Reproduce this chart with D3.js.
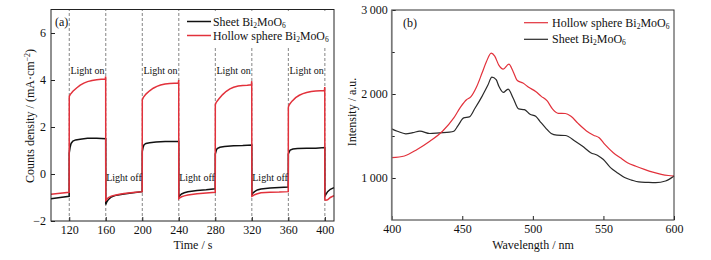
<!DOCTYPE html>
<html>
<head>
<meta charset="utf-8">
<script src="https://cdn.jsdelivr.net/npm/d3@7"></script>
<style>
  body { margin: 0; background: #fff; }
  text { font-family: "Liberation Serif", "Times New Roman", serif; fill: #111; }
</style>
</head>
<body>
<svg id="chart" width="711" height="260"></svg>
<script>
// ---- data: panel (a) photocurrent, [time s, current mA/cm2]
var sheet_curr = [[100,-1.05],[110,-1.0],[119.9,-0.95],[120,0.9],[121,1.15],[122,1.3],[124,1.4],[127,1.45],[132,1.48],[140,1.52],[150,1.52],[159.9,1.5],
  [160,-1.3],[161,-1.2],[163,-1.08],[166,-0.98],[170,-0.92],[180,-0.85],[190,-0.8],[199.9,-0.75],
  [200,0.95],[201,1.15],[202,1.25],[204,1.3],[208,1.33],[215,1.36],[225,1.38],[239.9,1.38],
  [240,-1.0],[241,-0.92],[243,-0.85],[246,-0.8],[250,-0.76],[260,-0.7],[270,-0.67],[279.9,-0.63],
  [280,0.85],[281,1.0],[282,1.08],[285,1.14],[290,1.17],[300,1.2],[310,1.21],[319.9,1.23],
  [320,-0.9],[321,-0.82],[323,-0.75],[326,-0.68],[330,-0.64],[340,-0.6],[350,-0.57],[359.9,-0.55],
  [360,0.85],[361,0.95],[362,1.02],[365,1.06],[370,1.08],[380,1.1],[390,1.1],[399.9,1.13],
  [400,-0.95],[401,-0.88],[403,-0.75],[406,-0.65],[410,-0.58]];
var hollow_curr = [[100,-0.86],[110,-0.82],[119.9,-0.78],[120,3.3],[121,3.38],[124,3.52],[128,3.66],[132,3.78],[136,3.87],[140,3.93],[145,3.98],[150,4.01],[155,4.03],[159.5,4.04],[159.9,4.15],
  [160,-1.12],[161,-1.08],[163,-1.0],[166,-0.94],[170,-0.9],[175,-0.86],[180,-0.83],[190,-0.79],[199.9,-0.75],
  [200,3.15],[201,3.25],[204,3.4],[208,3.54],[212,3.65],[216,3.73],[220,3.79],[225,3.83],[230,3.85],[235,3.86],[239.5,3.87],[239.9,4.0],
  [240,-1.05],[241,-1.02],[243,-0.97],[246,-0.93],[250,-0.89],[260,-0.84],[270,-0.81],[279.9,-0.78],
  [280,2.95],[281,3.05],[284,3.2],[288,3.38],[292,3.52],[296,3.62],[300,3.69],[305,3.74],[310,3.77],[315,3.78],[319.5,3.8],[319.9,3.95],
  [320,-0.95],[321,-0.93],[323,-0.88],[326,-0.84],[330,-0.8],[340,-0.78],[350,-0.77],[359.9,-0.75],
  [360,2.85],[361,2.95],[364,3.1],[368,3.25],[372,3.35],[376,3.42],[380,3.47],[385,3.51],[390,3.53],[395,3.54],[399.5,3.55],[399.9,3.7],
  [400,-1.1],[401,-1.12],[403,-1.1],[406,-1.0],[410,-0.92]];
var switch_times = [120,160,200,240,280,320,360,400];
var on_periods = [[120,160],[200,240],[280,320],[360,400]];
var off_periods = [[160,200],[240,280],[320,360]];
var time_ticks = [120,160,200,240,280,320,360,400];
var curr_ticks = [-2,0,2,4,6];

// ---- data: panel (b) PL spectra, [wavelength nm, intensity]
var hollow_pl = [[400,1242],[409,1262],[418,1340],[427,1438],[436,1557],[444,1715],[449,1850],[453,1932],[456,1965],[460,2080],[464,2249],[467,2380],[470.5,2486],[473,2450],[476,2340],[479,2296],[483,2355],[486,2268],[489,2160],[493,2130],[497,2080],[502,2031],[506,1972],[510,1920],[514,1820],[518,1770],[523,1768],[527,1735],[532,1650],[538,1560],[543,1510],[547,1479],[551,1400],[557,1301],[562,1240],[567,1182],[573,1140],[579,1103],[585,1070],[591,1044],[596,1030],[600,1024]];
var sheet_pl = [[400,1585],[404,1557],[410,1526],[415,1540],[420,1557],[427,1530],[434,1538],[441,1545],[444,1557],[447,1624],[451,1715],[455,1727],[459,1830],[464,1972],[468,2100],[471,2201],[474,2170],[476,2090],[479,2019],[482.5,2059],[486,1953],[490,1822],[494,1814],[498,1760],[502,1735],[505,1675],[509,1597],[513,1530],[517,1510],[523,1506],[530,1438],[535,1380],[541,1301],[546,1269],[550,1220],[555,1123],[560,1060],[565,1005],[570,975],[575,953],[581,948],[587,945],[594,964],[600,1024]];
var wl_ticks = [400,450,500,550,600];
var pl_ticks = [1000,2000,3000];
var pl_minor = [1500,2500];

var svg = d3.select('#chart');
var red = '#e2313b', blk = '#111';

// ================= panel (a)
var xa = d3.scaleLinear().domain([100,410]).range([51,334]);
var ya = d3.scaleLinear().domain([-2,7]).range([221,9.5]);
var ga = svg.append('g');

ga.selectAll('line.sw').data(switch_times).enter().append('line')
  .attr('x1', d => xa(d)).attr('x2', d => xa(d)).attr('y1', ya(-2)).attr('y2', ya(7))
  .attr('stroke', '#666').attr('stroke-width', 0.8).attr('stroke-dasharray', '3,2');

// legend background hides dashes behind it
ga.append('rect').attr('x', 181).attr('y', 11).attr('width', 152).attr('height', 35).attr('fill', '#fff');

var linea = d3.line().x(d => xa(d[0])).y(d => ya(d[1]));
ga.append('path').datum(sheet_curr).attr('d', linea).attr('fill','none').attr('stroke', blk).attr('stroke-width', 1.5);
ga.append('path').datum(hollow_curr).attr('d', linea).attr('fill','none').attr('stroke', red).attr('stroke-width', 1.5);

ga.selectAll('text.on').data(on_periods).enter().append('text')
  .attr('x', d => xa((d[0]+d[1])/2)).attr('y', 74).attr('text-anchor','middle')
  .attr('font-size', 10).text('Light on');
ga.selectAll('text.off').data(off_periods).enter().append('text')
  .attr('x', d => xa((d[0]+d[1])/2)).attr('y', 181).attr('text-anchor','middle')
  .attr('font-size', 10).text('Light off');

var axA = ga.append('g');
axA.append('g').attr('transform', 'translate(0,' + ya(-2) + ')')
  .call(d3.axisBottom(xa).tickValues(time_ticks).tickSizeInner(-4).tickSizeOuter(0).tickPadding(4));
axA.append('g').attr('transform', 'translate(' + xa(100) + ',0)')
  .call(d3.axisLeft(ya).tickValues(curr_ticks).tickSizeInner(-4).tickSizeOuter(0).tickPadding(5));
axA.selectAll('.domain').remove();
axA.selectAll('.tick line').attr('stroke', '#222');
axA.selectAll('.tick text').attr('font-size', 12).attr('font-family', '"Liberation Serif", serif').attr('fill', '#111');
ga.append('rect').attr('x', xa(100)).attr('y', ya(7)).attr('width', xa(410)-xa(100)).attr('height', ya(-2)-ya(7))
  .attr('fill','none').attr('stroke','#222').attr('stroke-width', 1);

ga.append('text').attr('x', 55).attr('y', 26).attr('font-size', 12).text('(a)');
ga.append('text').attr('x', 193).attr('y', 249).attr('text-anchor','middle').attr('font-size', 12).text('Time / s');
var yl = ga.append('text').attr('transform', 'translate(34,116) rotate(-90)').attr('text-anchor','middle').attr('font-size', 12);
yl.append('tspan').text('Counts density / (mA·cm');
yl.append('tspan').attr('dy', -4).attr('font-size', 8).text('−2');
yl.append('tspan').attr('dy', 4).text(')');

function bi2moo6(sel) {
  sel.append('tspan').text('Bi');
  sel.append('tspan').attr('dy', 2).attr('font-size', 7.5).text('2');
  sel.append('tspan').attr('dy', -2).text('MoO');
  sel.append('tspan').attr('dy', 2).attr('font-size', 7.5).text('6');
}
var legA = [{n:'Sheet ', c:blk, y:21.5}, {n:'Hollow sphere ', c:red, y:35.5}];
legA.forEach(function(d) {
  ga.append('line').attr('x1', 187).attr('x2', 211).attr('y1', d.y).attr('y2', d.y).attr('stroke', d.c).attr('stroke-width', 1.5);
  var t = ga.append('text').attr('x', 213).attr('y', d.y + 4).attr('font-size', 11.8);
  t.append('tspan').text(d.n);
  bi2moo6(t);
});

// ================= panel (b)
var xb = d3.scaleLinear().domain([400,600]).range([391.7,674]);
var yb = d3.scaleLinear().domain([500,3000]).range([220,10]);
var gb = svg.append('g');
var lineb = d3.line().curve(d3.curveMonotoneX).x(d => xb(d[0])).y(d => yb(d[1]));
gb.append('path').datum(sheet_pl).attr('d', lineb).attr('fill','none').attr('stroke', '#2a2a2a').attr('stroke-width', 1.2);
gb.append('path').datum(hollow_pl).attr('d', lineb).attr('fill','none').attr('stroke', red).attr('stroke-width', 1.2);

var axB = gb.append('g');
axB.append('g').attr('transform', 'translate(0,' + yb(500) + ')')
  .call(d3.axisBottom(xb).tickValues(wl_ticks).tickSizeInner(-4).tickSizeOuter(0).tickPadding(4));
axB.append('g').attr('transform', 'translate(' + xb(400) + ',0)')
  .call(d3.axisLeft(yb).tickValues(pl_ticks).tickFormat(d => d3.format(',')(d).replace(',', '\u2009')).tickSizeInner(-4).tickSizeOuter(0).tickPadding(4));
axB.append('g').attr('transform', 'translate(' + xb(400) + ',0)')
  .call(d3.axisLeft(yb).tickValues(pl_minor).tickFormat('').tickSizeInner(-3).tickSizeOuter(0));
axB.selectAll('.domain').remove();
axB.selectAll('.tick line').attr('stroke', '#222');
axB.selectAll('.tick text').attr('font-size', 12).attr('font-family', '"Liberation Serif", serif').attr('fill', '#111');
gb.append('rect').attr('x', xb(400)).attr('y', yb(3000)).attr('width', xb(600)-xb(400)).attr('height', yb(500)-yb(3000))
  .attr('fill','none').attr('stroke','#333').attr('stroke-width', 1);
gb.append('line').attr('x1', xb(400)).attr('x2', xb(400)).attr('y1', yb(3000)).attr('y2', yb(500)).attr('stroke', '#777').attr('stroke-width', 1.6);

gb.append('text').attr('x', 403).attr('y', 27).attr('font-size', 12).text('(b)');
gb.append('text').attr('x', 533).attr('y', 249).attr('text-anchor','middle').attr('font-size', 12).text('Wavelength / nm');
gb.append('text').attr('transform', 'translate(356,112) rotate(-90)').attr('text-anchor','middle').attr('font-size', 12).text('Intensity / a.u.');

var legB = [{n:'Hollow sphere ', c:red, y:22.7}, {n:'Sheet ', c:'#2a2a2a', y:39.3}];
legB.forEach(function(d) {
  gb.append('line').attr('x1', 524).attr('x2', 548).attr('y1', d.y).attr('y2', d.y).attr('stroke', d.c).attr('stroke-width', 1.2);
  var t = gb.append('text').attr('x', 552).attr('y', d.y + 4).attr('font-size', 12);
  t.append('tspan').text(d.n);
  bi2moo6(t);
});
</script>
</body>
</html>
